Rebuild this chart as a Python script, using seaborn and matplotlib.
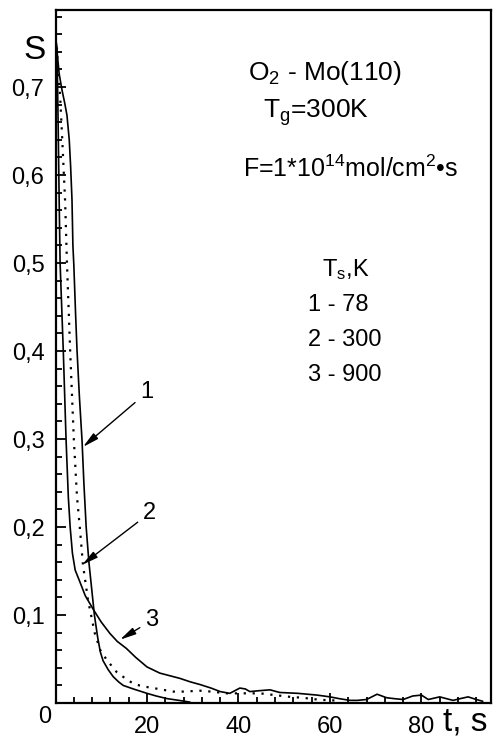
import matplotlib
matplotlib.use("Agg")
import matplotlib.pyplot as plt
import numpy as np
import pandas as pd
import seaborn as sns

# curve 1: T_s = 78 K (solid, steep)
t1 = [0.2, 0.8, 1.4, 2.0, 2.5, 3.0, 3.3, 3.6, 3.8, 4.0, 4.4, 4.7, 5.2, 5.8, 6.2,
      6.7, 7.3, 7.9, 8.5, 9.2, 9.8, 10.4, 11.5, 12.6, 13.8, 14.8, 17.0, 20.0,
      22.0, 24.4, 27.0, 29.4]
s1 = [0.748, 0.715, 0.697, 0.682, 0.668, 0.640, 0.610, 0.572, 0.520, 0.498, 0.440,
      0.401, 0.350, 0.298, 0.250, 0.200, 0.160, 0.130, 0.100, 0.075, 0.058, 0.048,
      0.038, 0.030, 0.024, 0.020, 0.016, 0.011, 0.008, 0.005, 0.003, 0.001]

# curve 2: T_s = 300 K (dotted)
t2 = [0.3, 0.6, 1.0, 1.4, 2.1, 2.5, 3.2, 4.0, 4.7, 5.3, 6.0, 7.1, 8.6, 9.8, 11.2,
      13.4, 15.0, 17.0, 19.0, 21.4, 25.7, 28.0, 31.6, 34.0, 37.5, 40.0, 44.7, 48.0,
      51.3, 54.0, 57.2, 60.0, 62.2]
s2 = [0.745, 0.715, 0.690, 0.648, 0.570, 0.500, 0.400, 0.300, 0.234, 0.200, 0.157,
      0.117, 0.079, 0.060, 0.049, 0.035, 0.029, 0.022, 0.019, 0.017, 0.013, 0.013,
      0.014, 0.013, 0.011, 0.011, 0.011, 0.009, 0.007, 0.006, 0.004, 0.003, 0.003]

# curve 3: T_s = 900 K (solid, long tail)
t3 = [0.2, 0.4, 0.6, 0.8, 1.0, 1.7, 2.3, 2.8, 3.2, 3.7, 4.3, 5.3, 6.5, 8.3, 10.0,
      11.9, 13.5, 15.5, 17.5, 20.0, 22.8, 25.0, 27.2, 29.5, 31.6, 34.0, 36.0, 38.1,
      39.2, 40.3, 41.5, 42.5, 44.5, 46.9, 49.0, 53.0, 57.2, 60.0, 62.0, 64.4, 66.0,
      68.0, 70.3, 72.4, 74.0, 76.0, 78.1, 80.0, 81.5, 84.0, 86.9, 88.5, 90.2, 92.0,
      93.4]
s3 = [0.750, 0.720, 0.648, 0.570, 0.500, 0.400, 0.300, 0.234, 0.200, 0.170, 0.151,
      0.138, 0.122, 0.106, 0.092, 0.079, 0.070, 0.062, 0.052, 0.041, 0.034, 0.031,
      0.028, 0.024, 0.021, 0.017, 0.013, 0.011, 0.014, 0.017, 0.016, 0.013, 0.014,
      0.015, 0.012, 0.011, 0.009, 0.007, 0.005, 0.003, 0.003, 0.004, 0.010, 0.006,
      0.005, 0.004, 0.008, 0.009, 0.004, 0.007, 0.003, 0.005, 0.007, 0.004, 0.002]

curve_labels = ["1", "2", "3"]
arrow_tips = [(6.0, 0.291), (5.8, 0.157), (14.1, 0.072)]
label_pos = [(20.0, 0.353), (20.6, 0.216), (21.1, 0.094)]

x_major = [20, 40, 60, 80]
y_major = [0.1, 0.2, 0.3, 0.4, 0.5, 0.6, 0.7]
y_labels = ["0,1", "0,2", "0,3", "0,4", "0,5", "0,6", "0,7"]

legend_lines = ["1 - 78", "2 - 300", "3 - 900"]

sns.set_theme(style="ticks")
plt.rcParams["font.family"] = ["Liberation Sans", "DejaVu Sans"]
plt.rcParams["mathtext.fontset"] = "custom"
plt.rcParams["mathtext.rm"] = "Liberation Sans"
plt.rcParams["mathtext.it"] = "Liberation Sans"
plt.rcParams["text.color"] = "black"
plt.rcParams["xtick.color"] = "black"
plt.rcParams["ytick.color"] = "black"
plt.rcParams["xtick.labelcolor"] = "black"
plt.rcParams["ytick.labelcolor"] = "black"

fig = plt.figure(figsize=(5.02, 7.36), dpi=100)
ax = fig.add_axes([0.1106, 0.0448, 0.8674, 0.9416])

df = pd.concat([
    pd.DataFrame({"t": t1, "S": s1, "curve": "1"}),
    pd.DataFrame({"t": t2, "S": s2, "curve": "2"}),
    pd.DataFrame({"t": t3, "S": s3, "curve": "3"}),
])
styles = {"1": "-", "2": (0, (1, 3)), "3": "-"}
for name, sub in df.groupby("curve"):
    sns.lineplot(data=sub, x="t", y="S", ax=ax, color="black", sort=False,
                 estimator=None, linewidth=1.6 if name == "2" else 1.2,
                 linestyle=styles[name], legend=False)

ax.set_xlim(0, 95.2)
ax.set_ylim(0, 0.7875)
ax.set_xlabel("")
ax.set_ylabel("")

ax.set_xticks(x_major)
ax.set_xticks(np.arange(4, 95, 4), minor=True)
ax.set_yticks(y_major)
ax.set_yticklabels(y_labels)
ax.set_yticks(np.arange(0.02, 0.79, 0.02), minor=True)
ax.tick_params(which="major", direction="in", length=7.5, width=1.3,
               labelsize=17)
ax.tick_params(which="minor", direction="in", length=4.2, width=1.3)
ax.tick_params(axis="x", which="major", pad=9)
ax.tick_params(axis="y", which="major", pad=8)
for sp in ax.spines.values():
    sp.set_visible(True)
    sp.set_linewidth(1.6)
    sp.set_color("black")

for lab, tip, pos in zip(curve_labels, arrow_tips, label_pos):
    ax.annotate(lab, xy=tip, xytext=pos, fontsize=17, ha="center", va="center",
                arrowprops=dict(arrowstyle="-|>,head_length=0.8,head_width=0.18",
                                color="black", lw=1.0, shrinkA=2, shrinkB=0,
                                mutation_scale=12))

ax.text(42.1, 0.708, r"O$_\mathregular{2}$ - Mo(110)", fontsize=19)
ax.text(45.4, 0.665, r"T$_\mathregular{g}$=300K", fontsize=19)
ax.text(41.0, 0.598, r"F=1*10$^\mathregular{14}$mol/cm$^\mathregular{2}$•s", fontsize=18)
ax.text(58.3, 0.485, r"T$_\mathregular{s}$,K", fontsize=17)
for i, line in enumerate(legend_lines):
    ax.text(55.2, 0.445 - i * 0.0395, line, fontsize=17)

ax.text(-0.024, -0.020, "0", transform=ax.transAxes, fontsize=17,
        ha="center", va="center")
ax.text(-0.047, 0.942, "S", transform=ax.transAxes, fontsize=24,
        ha="center", va="center")
ax.text(0.942, -0.027, "t, s", transform=ax.transAxes, fontsize=24,
        ha="center", va="center")

fig.savefig("out.png", dpi=100, facecolor="white")
